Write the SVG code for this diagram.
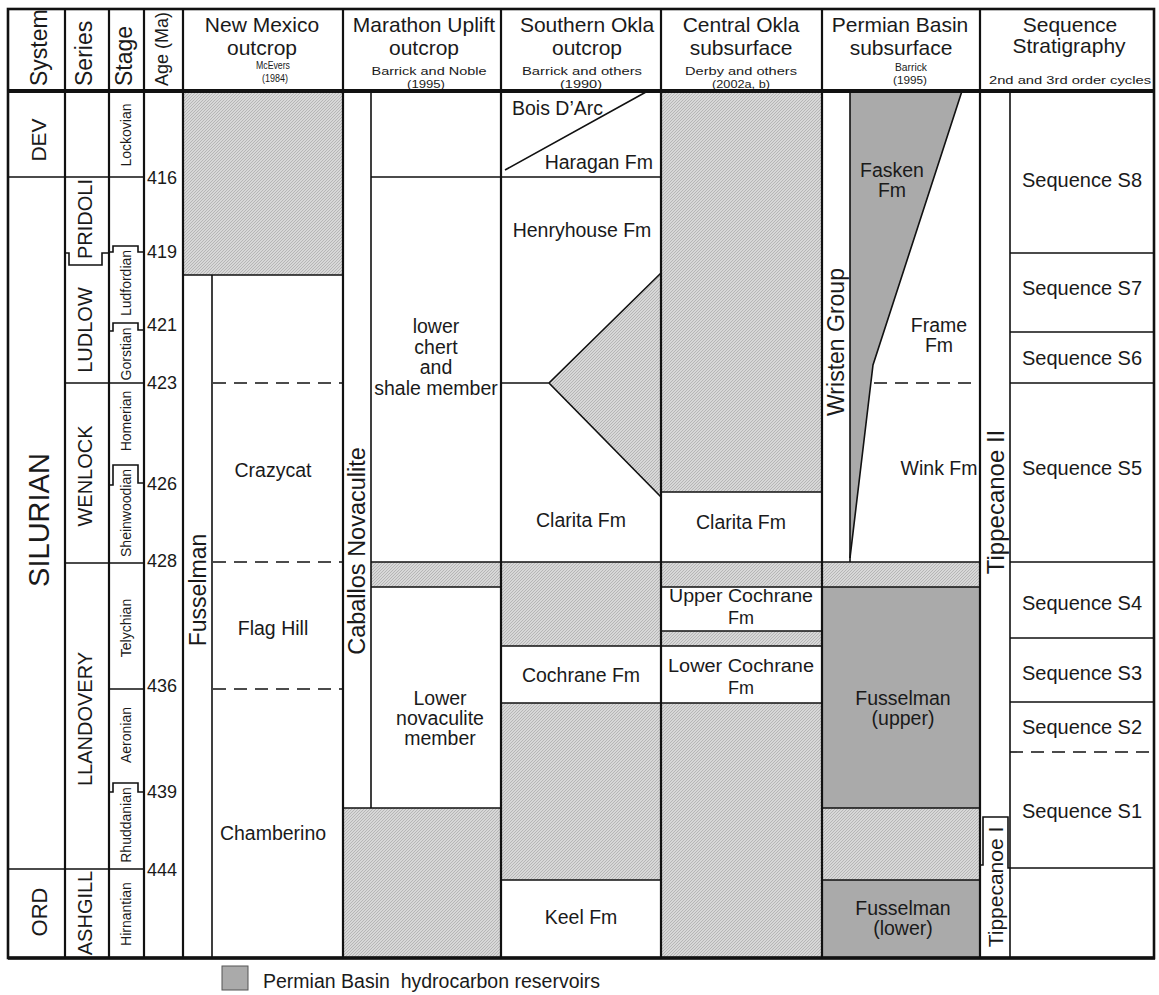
<svg xmlns="http://www.w3.org/2000/svg" width="1159" height="995" viewBox="0 0 1159 995">
<defs>
<pattern id="hatch" patternUnits="userSpaceOnUse" width="3" height="3">
<rect width="3" height="3" fill="#d8d8d8"/>
<path d="M-1,1 L1,-1 M0,3 L3,0 M2,4 L4,2" stroke="#a8a8a8" stroke-width="0.7"/>
</pattern>
</defs>
<style>
text{font-family:"Liberation Sans",Arial,sans-serif;fill:#1a1a1a}
.t{font-size:21px;text-anchor:middle}
.c{font-size:11.5px;text-anchor:middle}
.b{font-size:19.5px;text-anchor:middle}
.bs{font-size:18px;text-anchor:middle}
.s{font-size:20px;text-anchor:middle}
.age{font-size:18px}
.vs{font-size:20px;text-anchor:middle}
.vg{font-size:14px;text-anchor:middle}
.ln{stroke:#111;stroke-width:1.6;fill:none}
.th{stroke:#111;stroke-width:2.2;fill:none}
.da{stroke:#111;stroke-width:1.6;stroke-dasharray:13 8;fill:none}
.h{fill:url(#hatch)}
.r{fill:#aaaaaa}
</style>
<rect width="1159" height="995" fill="#ffffff"/>

<g id="header">
<text transform="translate(39,86) rotate(-90)" dy="0.35em" font-size="23">System</text>
<text transform="translate(84,86) rotate(-90)" dy="0.35em" font-size="23">Series</text>
<text transform="translate(124,86) rotate(-90)" dy="0.35em" font-size="23">Stage</text>
<text transform="translate(162,86) rotate(-90)" dy="0.35em" font-size="18">Age (Ma)</text>
<text class="t" x="262" y="32">New Mexico</text>
<text class="t" x="262" y="55">outcrop</text>
<text class="c" x="273" y="69" textLength="34" lengthAdjust="spacingAndGlyphs">McEvers</text>
<text class="c" x="275" y="82" textLength="26" lengthAdjust="spacingAndGlyphs">(1984)</text>
<text class="t" x="424" y="32">Marathon Uplift</text>
<text class="t" x="424" y="55">outcrop</text>
<text class="c" x="429" y="75" textLength="115" lengthAdjust="spacingAndGlyphs">Barrick and Noble</text>
<text class="c" x="426" y="88" textLength="38" lengthAdjust="spacingAndGlyphs">(1995)</text>
<text class="t" x="587" y="32">Southern Okla</text>
<text class="t" x="587" y="55">outcrop</text>
<text class="c" x="582" y="75" textLength="120" lengthAdjust="spacingAndGlyphs">Barrick and others</text>
<text class="c" x="581" y="88" textLength="42" lengthAdjust="spacingAndGlyphs">(1990)</text>
<text class="t" x="741" y="32">Central Okla</text>
<text class="t" x="741" y="55">subsurface</text>
<text class="c" x="741" y="75" textLength="112" lengthAdjust="spacingAndGlyphs">Derby and others</text>
<text class="c" x="741" y="88" textLength="58" lengthAdjust="spacingAndGlyphs">(2002a, b)</text>
<text class="t" x="900" y="32">Permian Basin</text>
<text class="t" x="901" y="55">subsurface</text>
<text class="c" x="911" y="71" textLength="32" lengthAdjust="spacingAndGlyphs">Barrick</text>
<text class="c" x="910" y="84" textLength="34" lengthAdjust="spacingAndGlyphs">(1995)</text>
<text class="t" x="1070" y="32">Sequence</text>
<text class="t" x="1069" y="53">Stratigraphy</text>
<text class="c" x="1070" y="84" textLength="162" lengthAdjust="spacingAndGlyphs">2nd and 3rd order cycles</text>
</g>

<g id="fills">
<rect class="h" x="183" y="91" width="160" height="184"/>
<rect class="h" x="371" y="562" width="130" height="25"/>
<rect class="h" x="343" y="808" width="158" height="150"/>
<polygon class="h" points="661,273 549,383 661,497"/>
<rect class="h" x="501" y="562" width="160" height="84"/>
<rect class="h" x="501" y="703" width="160" height="177"/>
<rect class="h" x="661" y="91" width="161" height="401"/>
<rect class="h" x="661" y="562" width="161" height="25"/>
<rect class="h" x="661" y="631" width="161" height="15"/>
<rect class="h" x="661" y="703" width="161" height="255"/>
<rect class="h" x="822" y="562" width="158" height="25"/>
<rect class="h" x="822" y="808" width="158" height="72"/>
<polygon class="r" points="850,91 962,91 873,365 850,558"/>
<rect class="r" x="822" y="587" width="158" height="221"/>
<rect class="r" x="822" y="880" width="158" height="78"/>
</g>

<g id="connectors">
<path class="th" d="M65,9V958 M109,9V958 M144,9V958 M183,9V958 M343,9V958 M501,9V958 M661,9V958 M822,9V958 M980,9V958"/>
<path class="ln" d="M212,275V958 M371,91V808 M850,91V562 M1010,91V958"/>
<path class="ln" d="M8,177H144 M8,869H144 M65,383H144 M65,563H144 M109,689H144"/>
<path class="ln" d="M65,253H69V265H102V253H109"/>
<path class="ln" d="M109,252H113V246H138V252H144"/>
<path class="ln" d="M109,331H113V323H138V330H144"/>
<path class="ln" d="M109,485H113V465H138V483H144"/>
<path class="ln" d="M109,792H113V783H138V792H144"/>
<path class="ln" d="M183,275H343"/>
<path class="da" d="M213,383H343 M213,562H343 M213,689H343"/>
<path class="ln" d="M371,177H501 M371,562H501 M371,587H501 M343,808H501"/>
<path class="ln" d="M501,177H661 M505,170L646,92 M501,383H549 M661,273L549,383L661,497 M501,562H661 M501,646H661 M501,703H661 M501,880H661"/>
<path class="ln" d="M661,492H822 M661,562H822 M661,587H822 M661,631H822 M661,646H822 M661,703H822"/>
<path class="ln" d="M962,91L873,365L850,558 M822,562H980 M822,587H980 M822,808H980 M822,880H980"/>
<path class="da" d="M874,383H978"/>
<path class="ln" d="M980,865H983V817H1008V868H1010"/>
<path class="ln" d="M1010,253H1155 M1010,332H1155 M1010,383H1155 M1010,562H1155 M1010,638H1155 M1010,702H1155 M1010,868H1155"/>
<path class="da" d="M1010,752H1155"/>
<rect x="8" y="9" width="1146" height="949" fill="none" stroke="#111" stroke-width="2.6"/>
<path d="M8,91H1155" stroke="#111" stroke-width="4"/>
<path d="M8,958H1155" stroke="#111" stroke-width="3.5"/>
</g>

<g id="systems">
<text class="vs" transform="translate(39,140) rotate(-90)" dy="0.35em" style="font-size:21px">DEV</text>
<text class="vs" transform="translate(39,520) rotate(-90)" dy="0.35em" style="font-size:29px">SILURIAN</text>
<text class="vs" transform="translate(39,912) rotate(-90)" dy="0.35em" style="font-size:22px">ORD</text>
</g>
<g id="series">
<text class="vs" transform="translate(85,219) rotate(-90)" dy="0.35em">PRIDOLI</text>
<text class="vs" transform="translate(85,330) rotate(-90)" dy="0.35em">LUDLOW</text>
<text class="vs" transform="translate(85,476) rotate(-90)" dy="0.35em">WENLOCK</text>
<text class="vs" transform="translate(85,719) rotate(-90)" dy="0.35em">LLANDOVERY</text>
<text class="vs" transform="translate(85,913) rotate(-90)" dy="0.35em">ASHGILL</text>
</g>
<g id="stages">
<text class="vg" transform="translate(126,135) rotate(-90)" dy="0.35em">Lockovian</text>
<text class="vg" transform="translate(126,283) rotate(-90)" dy="0.35em">Ludfordian</text>
<text class="vg" transform="translate(126,354) rotate(-90)" dy="0.35em">Gorstian</text>
<text class="vg" transform="translate(126,421) rotate(-90)" dy="0.35em">Homerian</text>
<text class="vg" transform="translate(126,513) rotate(-90)" dy="0.35em">Sheinwoodian</text>
<text class="vg" transform="translate(126,628) rotate(-90)" dy="0.35em">Telychian</text>
<text class="vg" transform="translate(126,735) rotate(-90)" dy="0.35em">Aeronian</text>
<text class="vg" transform="translate(126,825) rotate(-90)" dy="0.35em">Rhuddanian</text>
<text class="vg" transform="translate(126,914) rotate(-90)" dy="0.35em">Hirnantian</text>
</g>
<g id="ages">
<text class="age" x="147" y="184">416</text>
<text class="age" x="147" y="258">419</text>
<text class="age" x="147" y="331">421</text>
<text class="age" x="147" y="389">423</text>
<text class="age" x="147" y="490">426</text>
<text class="age" x="147" y="567">428</text>
<text class="age" x="147" y="692">436</text>
<text class="age" x="147" y="798">439</text>
<text class="age" x="147" y="876">444</text>
</g>

<g id="new-mexico">
<text transform="translate(198,590) rotate(-90)" dy="0.35em" text-anchor="middle" font-size="23">Fusselman</text>
<text class="b" x="273" y="477">Crazycat</text>
<text class="b" x="273" y="635">Flag Hill</text>
<text class="b" x="273" y="840">Chamberino</text>
</g>
<g id="marathon">
<text transform="translate(357,551) rotate(-90)" dy="0.35em" text-anchor="middle" font-size="23.5">Caballos Novaculite</text>
<text class="b" x="436" y="333">lower</text>
<text class="b" x="436" y="354">chert</text>
<text class="b" x="436" y="374">and</text>
<text class="b" x="436" y="395">shale member</text>
<text class="b" x="440" y="705">Lower</text>
<text class="b" x="440" y="725">novaculite</text>
<text class="b" x="440" y="745">member</text>
</g>
<g id="southern-okla">
<text x="512" y="115" font-size="19.5">Bois D’Arc</text>
<text x="653" y="169" font-size="19.5" text-anchor="end">Haragan Fm</text>
<text class="b" x="582" y="237">Henryhouse Fm</text>
<text class="b" x="581" y="527">Clarita Fm</text>
<text class="b" x="581" y="682">Cochrane Fm</text>
<text class="b" x="581" y="924">Keel Fm</text>
</g>
<g id="central-okla">
<text class="b" x="741" y="529">Clarita Fm</text>
<text class="bs" x="741" y="602" textLength="144" lengthAdjust="spacingAndGlyphs">Upper Cochrane</text>
<text class="bs" x="741" y="624">Fm</text>
<text class="bs" x="741" y="672" textLength="146" lengthAdjust="spacingAndGlyphs">Lower Cochrane</text>
<text class="bs" x="741" y="694">Fm</text>
</g>
<g id="permian-basin">
<text transform="translate(836,342) rotate(-90)" dy="0.35em" text-anchor="middle" font-size="23">Wristen Group</text>
<text class="b" x="892" y="177">Fasken</text>
<text class="b" x="892" y="197">Fm</text>
<text class="b" x="939" y="332">Frame</text>
<text class="b" x="939" y="352">Fm</text>
<text class="b" x="939" y="475">Wink Fm</text>
<text class="b" x="903" y="705">Fusselman</text>
<text class="b" x="903" y="725">(upper)</text>
<text class="b" x="903" y="915">Fusselman</text>
<text class="b" x="903" y="935">(lower)</text>
</g>
<g id="tippecanoe">
<text transform="translate(996,502) rotate(-90)" dy="0.35em" text-anchor="middle" font-size="24">Tippecanoe II</text>
<text transform="translate(996,887) rotate(-90)" dy="0.35em" text-anchor="middle" font-size="21">Tippecanoe I</text>
</g>
<g id="sequences">
<text class="s" x="1082" y="187">Sequence S8</text>
<text class="s" x="1082" y="295">Sequence S7</text>
<text class="s" x="1082" y="365">Sequence S6</text>
<text class="s" x="1082" y="475">Sequence S5</text>
<text class="s" x="1082" y="610">Sequence S4</text>
<text class="s" x="1082" y="680">Sequence S3</text>
<text class="s" x="1082" y="734">Sequence S2</text>
<text class="s" x="1082" y="818">Sequence S1</text>
</g>
<g id="legend">
<rect x="222" y="966" width="26" height="24" fill="#aaaaaa" stroke="#555" stroke-width="1"/>
<text x="263" y="988" font-size="19.5">Permian Basin&#160; hydrocarbon reservoirs</text>
</g>
</svg>
